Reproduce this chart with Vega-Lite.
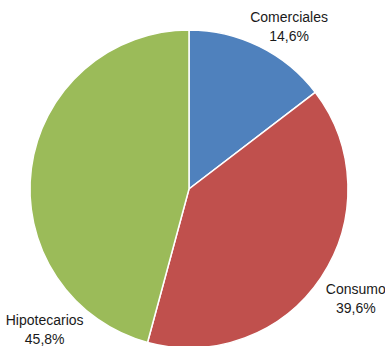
{
  "$schema": "https://vega.github.io/schema/vega-lite/v6.json",
  "width": 378,
  "height": 378,
  "autosize": "none",
  "padding": {"left": 0, "top": 0, "right": 7, "bottom": 0},
  "background": "white",
  "config": {"view": {"stroke": null}},
  "data": {
    "values": [
      {"categoria": "Comerciales", "valor": 14.6, "etiqueta": "Comerciales\n14,6%"},
      {"categoria": "Consumo", "valor": 39.6, "etiqueta": "Consumo\n39,6%"},
      {"categoria": "Hipotecarios", "valor": 45.8, "etiqueta": "Hipotecarios\n45,8%"}
    ]
  },
  "layer": [
    {
      "mark": {"type": "arc", "outerRadius": 159, "stroke": "white", "strokeWidth": 1.5},
      "encoding": {
        "theta": {"field": "valor", "type": "quantitative", "stack": true},
        "color": {
          "field": "categoria",
          "type": "nominal",
          "scale": {"domain": ["Comerciales", "Consumo", "Hipotecarios"], "range": ["#4F81BD", "#C0504D", "#9BBB59"]},
          "legend": null
        }
      }
    },
    {
      "transform": [
        {"stack": "valor", "groupby": [], "sort": [{"field": "categoria"}], "as": ["v0", "v1"]},
        {"calculate": "(datum.v0 + datum.v1) / 2", "as": "medio"},
        {"filter": "datum.categoria === 'Comerciales'"}
      ],
      "mark": {"type": "text", "radius": 190, "dx": 16, "dy": -1, "align": "center", "baseline": "middle", "lineBreak": "\n", "lineHeight": 19, "font": "Liberation Sans", "fontSize": 14, "color": "#1a1a1a"},
      "encoding": {
        "theta": {"field": "medio", "type": "quantitative", "scale": {"domain": [0, 100], "range": [0, 6.283185307]}},
        "text": {"field": "etiqueta"}
      }
    },
    {
      "transform": [
        {"stack": "valor", "groupby": [], "sort": [{"field": "categoria"}], "as": ["v0", "v1"]},
        {"calculate": "(datum.v0 + datum.v1) / 2", "as": "medio"},
        {"filter": "datum.categoria === 'Consumo'"}
      ],
      "mark": {"type": "text", "radius": 190, "dx": 9, "dy": -5, "align": "center", "baseline": "middle", "lineBreak": "\n", "lineHeight": 19, "font": "Liberation Sans", "fontSize": 14, "color": "#1a1a1a"},
      "encoding": {
        "theta": {"field": "medio", "type": "quantitative", "scale": {"domain": [0, 100], "range": [0, 6.283185307]}},
        "text": {"field": "etiqueta"}
      }
    },
    {
      "transform": [
        {"stack": "valor", "groupby": [], "sort": [{"field": "categoria"}], "as": ["v0", "v1"]},
        {"calculate": "(datum.v0 + datum.v1) / 2", "as": "medio"},
        {"filter": "datum.categoria === 'Hipotecarios'"}
      ],
      "mark": {"type": "text", "radius": 190, "dx": 44, "dy": 157, "align": "center", "baseline": "middle", "lineBreak": "\n", "lineHeight": 19, "font": "Liberation Sans", "fontSize": 14, "color": "#1a1a1a"},
      "encoding": {
        "theta": {"field": "medio", "type": "quantitative", "scale": {"domain": [0, 100], "range": [0, 6.283185307]}},
        "text": {"field": "etiqueta"}
      }
    }
  ]
}
